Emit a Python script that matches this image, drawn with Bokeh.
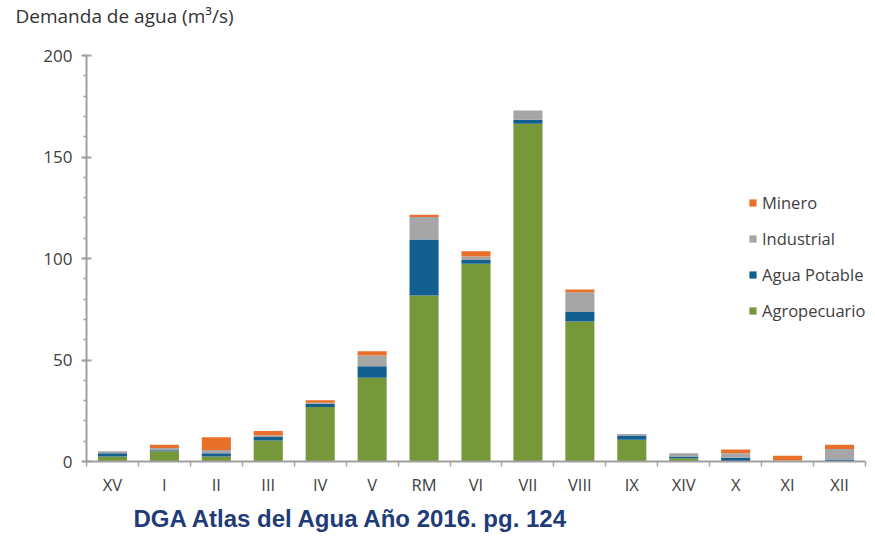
from bokeh.plotting import figure
from bokeh.models import Range1d, FixedTicker, SingleIntervalTicker, Legend, LegendItem, Title, ColumnDataSource
from bokeh.embed import file_html
from bokeh.resources import INLINE

categories = ["XV", "I", "II", "III", "IV", "V", "RM", "VI", "VII", "VIII", "IX", "XIV", "X", "XI", "XII"]
agropecuario = [2.5, 5.0, 2.5, 10.3, 26.8, 41.2, 81.8, 97.4, 166.4, 69.0, 10.7, 1.6, 0.3, 0.0, 0.0]
agua_potable = [1.6, 0.5, 1.6, 1.8, 1.6, 5.7, 27.6, 1.9, 2.0, 4.6, 2.1, 0.9, 1.5, 0.3, 1.0]
industrial = [1.0, 1.2, 1.6, 0.8, 0.5, 5.3, 11.0, 1.7, 4.5, 9.8, 0.8, 1.6, 2.3, 0.2, 5.2]
minero = [0.0, 1.5, 6.2, 2.1, 1.3, 2.1, 1.1, 2.6, 0.0, 1.3, 0.0, 0.0, 1.8, 2.3, 2.0]
series = ["agropecuario", "agua_potable", "industrial", "minero"]
labels = ["Agropecuario", "Agua Potable", "Industrial", "Minero"]
colors = ["#77973b", "#135f8f", "#a6a6a6", "#e8702a"]

xs = [i + 0.5 for i in range(len(categories))]
source = ColumnDataSource(dict(x=xs, agropecuario=agropecuario, agua_potable=agua_potable,
                               industrial=industrial, minero=minero))

FONT = "Open Sans"
TXT = "#404040"
n = len(categories)
# frame runs to the right edge; 10px of extra room past the last category for the legend
px_per_cat = (865 - 86) / n
x_end = n + 10 / px_per_cat

p = figure(width=875, height=536, x_range=Range1d(0, x_end), y_range=Range1d(0, 200),
           output_backend="svg", toolbar_location=None,
           min_border_left=86, min_border_right=0, min_border_top=55, min_border_bottom=75)
p.outline_line_color = None
p.xgrid.visible = False
p.ygrid.visible = False
p.background_fill_color = "white"
p.border_fill_color = "white"

rs = p.vbar_stack(series, x="x", width=0.56, source=source, color=colors, line_color=None)

# y axis
ya = p.yaxis[0]
ya.ticker = SingleIntervalTicker(interval=50, num_minor_ticks=5)
ya.axis_line_color = "#a0a0a0"
ya.axis_line_width = 2
ya.major_tick_line_color = "#a0a0a0"
ya.major_tick_line_width = 2
ya.major_tick_in = 5
ya.major_tick_out = 5
ya.minor_tick_line_color = "#a0a0a0"
ya.minor_tick_line_width = 1.5
ya.minor_tick_in = 0
ya.minor_tick_out = 3
ya.major_label_text_font = FONT
ya.major_label_text_font_size = "17px"
ya.major_label_text_color = TXT
ya.major_label_standoff = 9

# x axis
xa = p.xaxis[0]
xa.bounds = (0, n)
xa.ticker = FixedTicker(ticks=xs, minor_ticks=list(range(n + 1)))
xa.major_label_overrides = {x: c for x, c in zip(xs, categories)}
xa.axis_line_color = "#a0a0a0"
xa.axis_line_width = 2
xa.major_tick_line_color = None
xa.major_tick_in = 0
xa.major_tick_out = 0
xa.minor_tick_line_color = "#a0a0a0"
xa.minor_tick_line_width = 1.5
xa.minor_tick_in = 0
xa.minor_tick_out = 5
xa.major_label_text_font = FONT
xa.major_label_text_font_size = "16.5px"
xa.major_label_text_color = TXT
xa.major_label_standoff = 6

# legend (top to bottom: Minero, Industrial, Agua Potable, Agropecuario)
items = [LegendItem(label=labels[i], renderers=[rs[i]]) for i in [3, 2, 1, 0]]
legend = Legend(items=items, location=(662, 139), padding=0, margin=0,
                border_line_color=None, background_fill_alpha=0,
                glyph_width=9, glyph_height=9, label_height=20, spacing=13,
                label_standoff=5, label_text_font=FONT, label_text_font_size="16.5px",
                label_text_color=TXT)
p.add_layout(legend)

# spacer between plot frame and the axis title
spacer = Title(text=" ", text_font_size="1px", standoff=24)
p.add_layout(spacer, "above")
# axis title (top-left)
ttl = Title(text="Demanda de agua (m³/s)", align="left", offset=-71, vertical_align="bottom",
            text_font=FONT, text_font_size="19px", text_font_style="normal",
            text_color="#333333", standoff=0)
p.add_layout(ttl, "above")

cap = Title(text="DGA Atlas del Agua Año 2016. pg. 124", align="left", offset=47,
            text_font="Liberation Sans", text_font_size="24px", text_font_style="bold",
            text_color="#1f3c78", standoff=8)
p.add_layout(cap, "below")

open("out.html", "w").write(file_html(p, INLINE))
